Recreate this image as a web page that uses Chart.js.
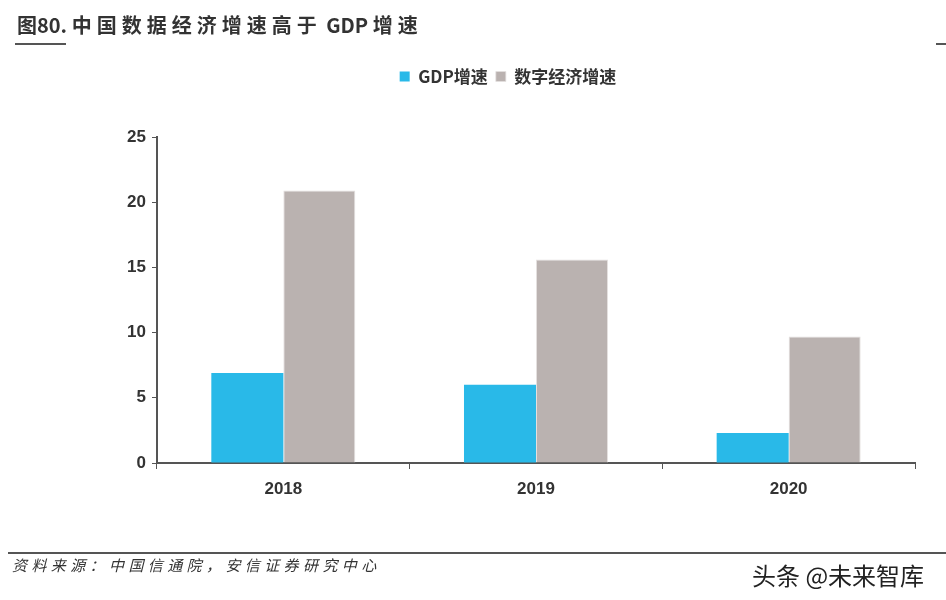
<!DOCTYPE html>
<html>
<head>
<meta charset="utf-8">
<script src="https://cdn.jsdelivr.net/npm/chart.js@4"></script>
<style>
    body { margin: 0; width: 946px; height: 600px; background: #fff; position: relative; overflow: hidden; font-family: "Noto Sans CJK SC", sans-serif; }
    #wrap { position: absolute; left: 0; top: 0; width: 946px; height: 600px; }
    .title { position: absolute; left: 17px; top: 10px; font-size: 20px; font-weight: bold; color: #333; white-space: nowrap; }
    .title .cn { letter-spacing: 5px; }
    .title-line { position: absolute; left: 15px; top: 43px; width: 51px; height: 2px; background: #555; }
    .title-line2 { position: absolute; left: 936px; top: 43px; width: 10px; height: 2px; background: #555; }
    .foot-line { position: absolute; left: 8px; top: 552px; width: 938px; height: 2px; background: #555; }
    .source { position: absolute; left: 12px; top: 554px; font-size: 15px; font-style: italic; color: #333; letter-spacing: 4.4px; }
    .mark { position: absolute; left: 752px; top: 557px; font-size: 24px; color: #222; text-shadow: 1px 1px 0 #fff, -1px -1px 0 #fff; white-space: nowrap; }
</style>
</head>
<body>
<div id="wrap"><canvas id="chart" width="946" height="600"></canvas></div>
<div class="title">图80. <span class="cn">中国数据经济增速高于</span> GDP <span class="cn">增速</span></div>
<div class="title-line"></div>
<div class="title-line2"></div>
<div class="foot-line"></div>
<div class="source">资料来源：中国信通院，安信证券研究中心</div>
<div class="mark">头条 @未来智库</div>
<script>
    // Data
    const years = ['2018', '2019', '2020'];
    const gdpGrowth = [6.9, 6.0, 2.3];
    const digitalGrowth = [20.9, 15.6, 9.7];
    const yTicks = [0, 5, 10, 15, 20, 25];

    const tickFont = { family: '"Liberation Sans", Arial, sans-serif', size: 17, weight: 'bold' };

    // keep legend + plot top fixed
    const legendSpace = {
        id: 'legendSpace',
        beforeInit(chart) {
            const fit = chart.legend.fit;
            chart.legend.fit = function() {
                fit.bind(chart.legend)();
                this.height = 77;
            };
        }
    };

    new Chart(document.getElementById('chart').getContext('2d'), {
        type: 'bar',
        data: {
            labels: years,
            datasets: [{
                label: 'GDP增速',
                data: gdpGrowth,
                backgroundColor: '#29B9E8',
                barPercentage: 1,
                categoryPercentage: 0.57
            }, {
                label: '数字经济增速',
                data: digitalGrowth,
                backgroundColor: '#BAB2B0',
                borderColor: '#E4E0DF',
                borderWidth: { left: 1, right: 1, top: 1, bottom: 0 },
                barPercentage: 1,
                categoryPercentage: 0.57
            }]
        },
        options: {
            responsive: false,
            animation: false,
            layout: { padding: { top: 60, left: 101, right: 31, bottom: 0 } },
            plugins: {
                legend: {
                    position: 'top',
                    labels: {
                        boxWidth: 10,
                        boxHeight: 10,
                        padding: 8,
                        color: '#333',
                        font: { family: '"Noto Sans CJK SC", sans-serif', size: 17, weight: 'bold' }
                    }
                },
                tooltip: { enabled: false }
            },
            scales: {
                x: {
                    afterFit: function(scale) { scale.height = 137; },
                    grid: { display: true, drawOnChartArea: false, tickLength: 6, color: '#555', offset: true },
                    border: { color: '#555', width: 2 },
                    ticks: { color: '#333', font: tickFont, padding: 10 }
                },
                y: {
                    min: 0,
                    max: 25,
                    afterFit: function(scale) { scale.width = 56; },
                    afterBuildTicks: function(scale) { scale.ticks = yTicks.map(v => ({ value: v })); },
                    grid: { display: true, drawOnChartArea: false, tickLength: 5, color: '#555' },
                    border: { color: '#555', width: 2 },
                    ticks: { color: '#333', font: tickFont, padding: 6 }
                }
            }
        },
        plugins: [legendSpace]
    });
</script>
</body>
</html>
